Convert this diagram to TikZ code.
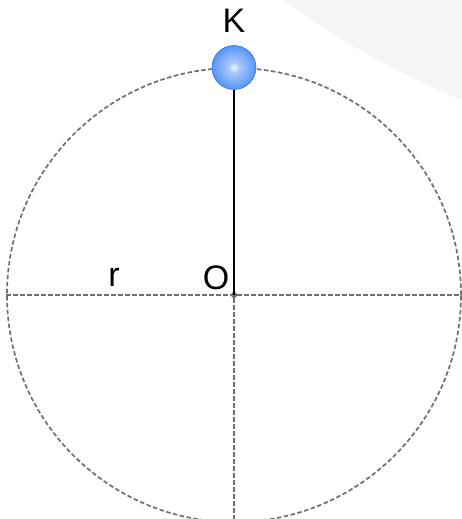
\documentclass[tikz,border=0pt]{standalone}
\usepackage{fontspec}
\setmainfont{Liberation Sans}
\definecolor{dashgrey}{HTML}{707070}
\definecolor{bgarc}{HTML}{F5F5F5}
\definecolor{bA}{HTML}{F6F9FF}
\definecolor{bB}{HTML}{A9C9FB}
\definecolor{bC}{HTML}{5B98F7}
\definecolor{bD}{HTML}{3A82F4}
\definecolor{bE}{HTML}{2A6EE6}
\pgfdeclareradialshading{ballshade}{\pgfpoint{0bp}{0bp}}{color(0bp)=(bA); color(6bp)=(bB); color(24bp)=(bC); color(42bp)=(bD); color(50bp)=(bE)}
\tikzset{
  guide/.style={draw=dashgrey, line width=1.7pt, dash pattern=on 4.5pt off 2.5pt},
  lbl/.style={font=\fontsize{34}{40}\selectfont, anchor=base, inner sep=0pt},
  ballnode/.style={circle, minimum size=44pt, inner sep=0pt, shading=ballshade, draw=bE, line width=0.6pt},
  rod/.style={draw=black, line width=1.6pt}
}
\begin{document}
\begin{tikzpicture}[x=1pt, y=-1pt]
\useasboundingbox (0,0) rectangle (462,519);
\clip (0,0) rectangle (462,519);
\fill[white] (0,0) rectangle (462,519);
% faint background arc
\fill[bgarc] (787,-692) circle[radius=856pt];
% orbit
\node[circle, minimum size=454pt, inner sep=0pt, guide] (orbit) at (234,295) {};
\node[circle, fill=dashgrey!90!black, minimum size=6pt, inner sep=0pt] (o) at (234,295) {};
\coordinate (bottom) at (234,530);
\draw[guide] (orbit.west) -- (orbit.east);
\draw[guide] (o) -- (bottom);
% rod and ball
\node[ballnode] (ball) at (234,67.5) {};
\draw[rod] (ball.south) -- (o.center);
% labels
\node[lbl] (k) at (234,33) {K};
\node[lbl] (olbl) at (216,289) {O};
\node[lbl] (r) at (114,286) {r};
\end{tikzpicture}
\end{document}
